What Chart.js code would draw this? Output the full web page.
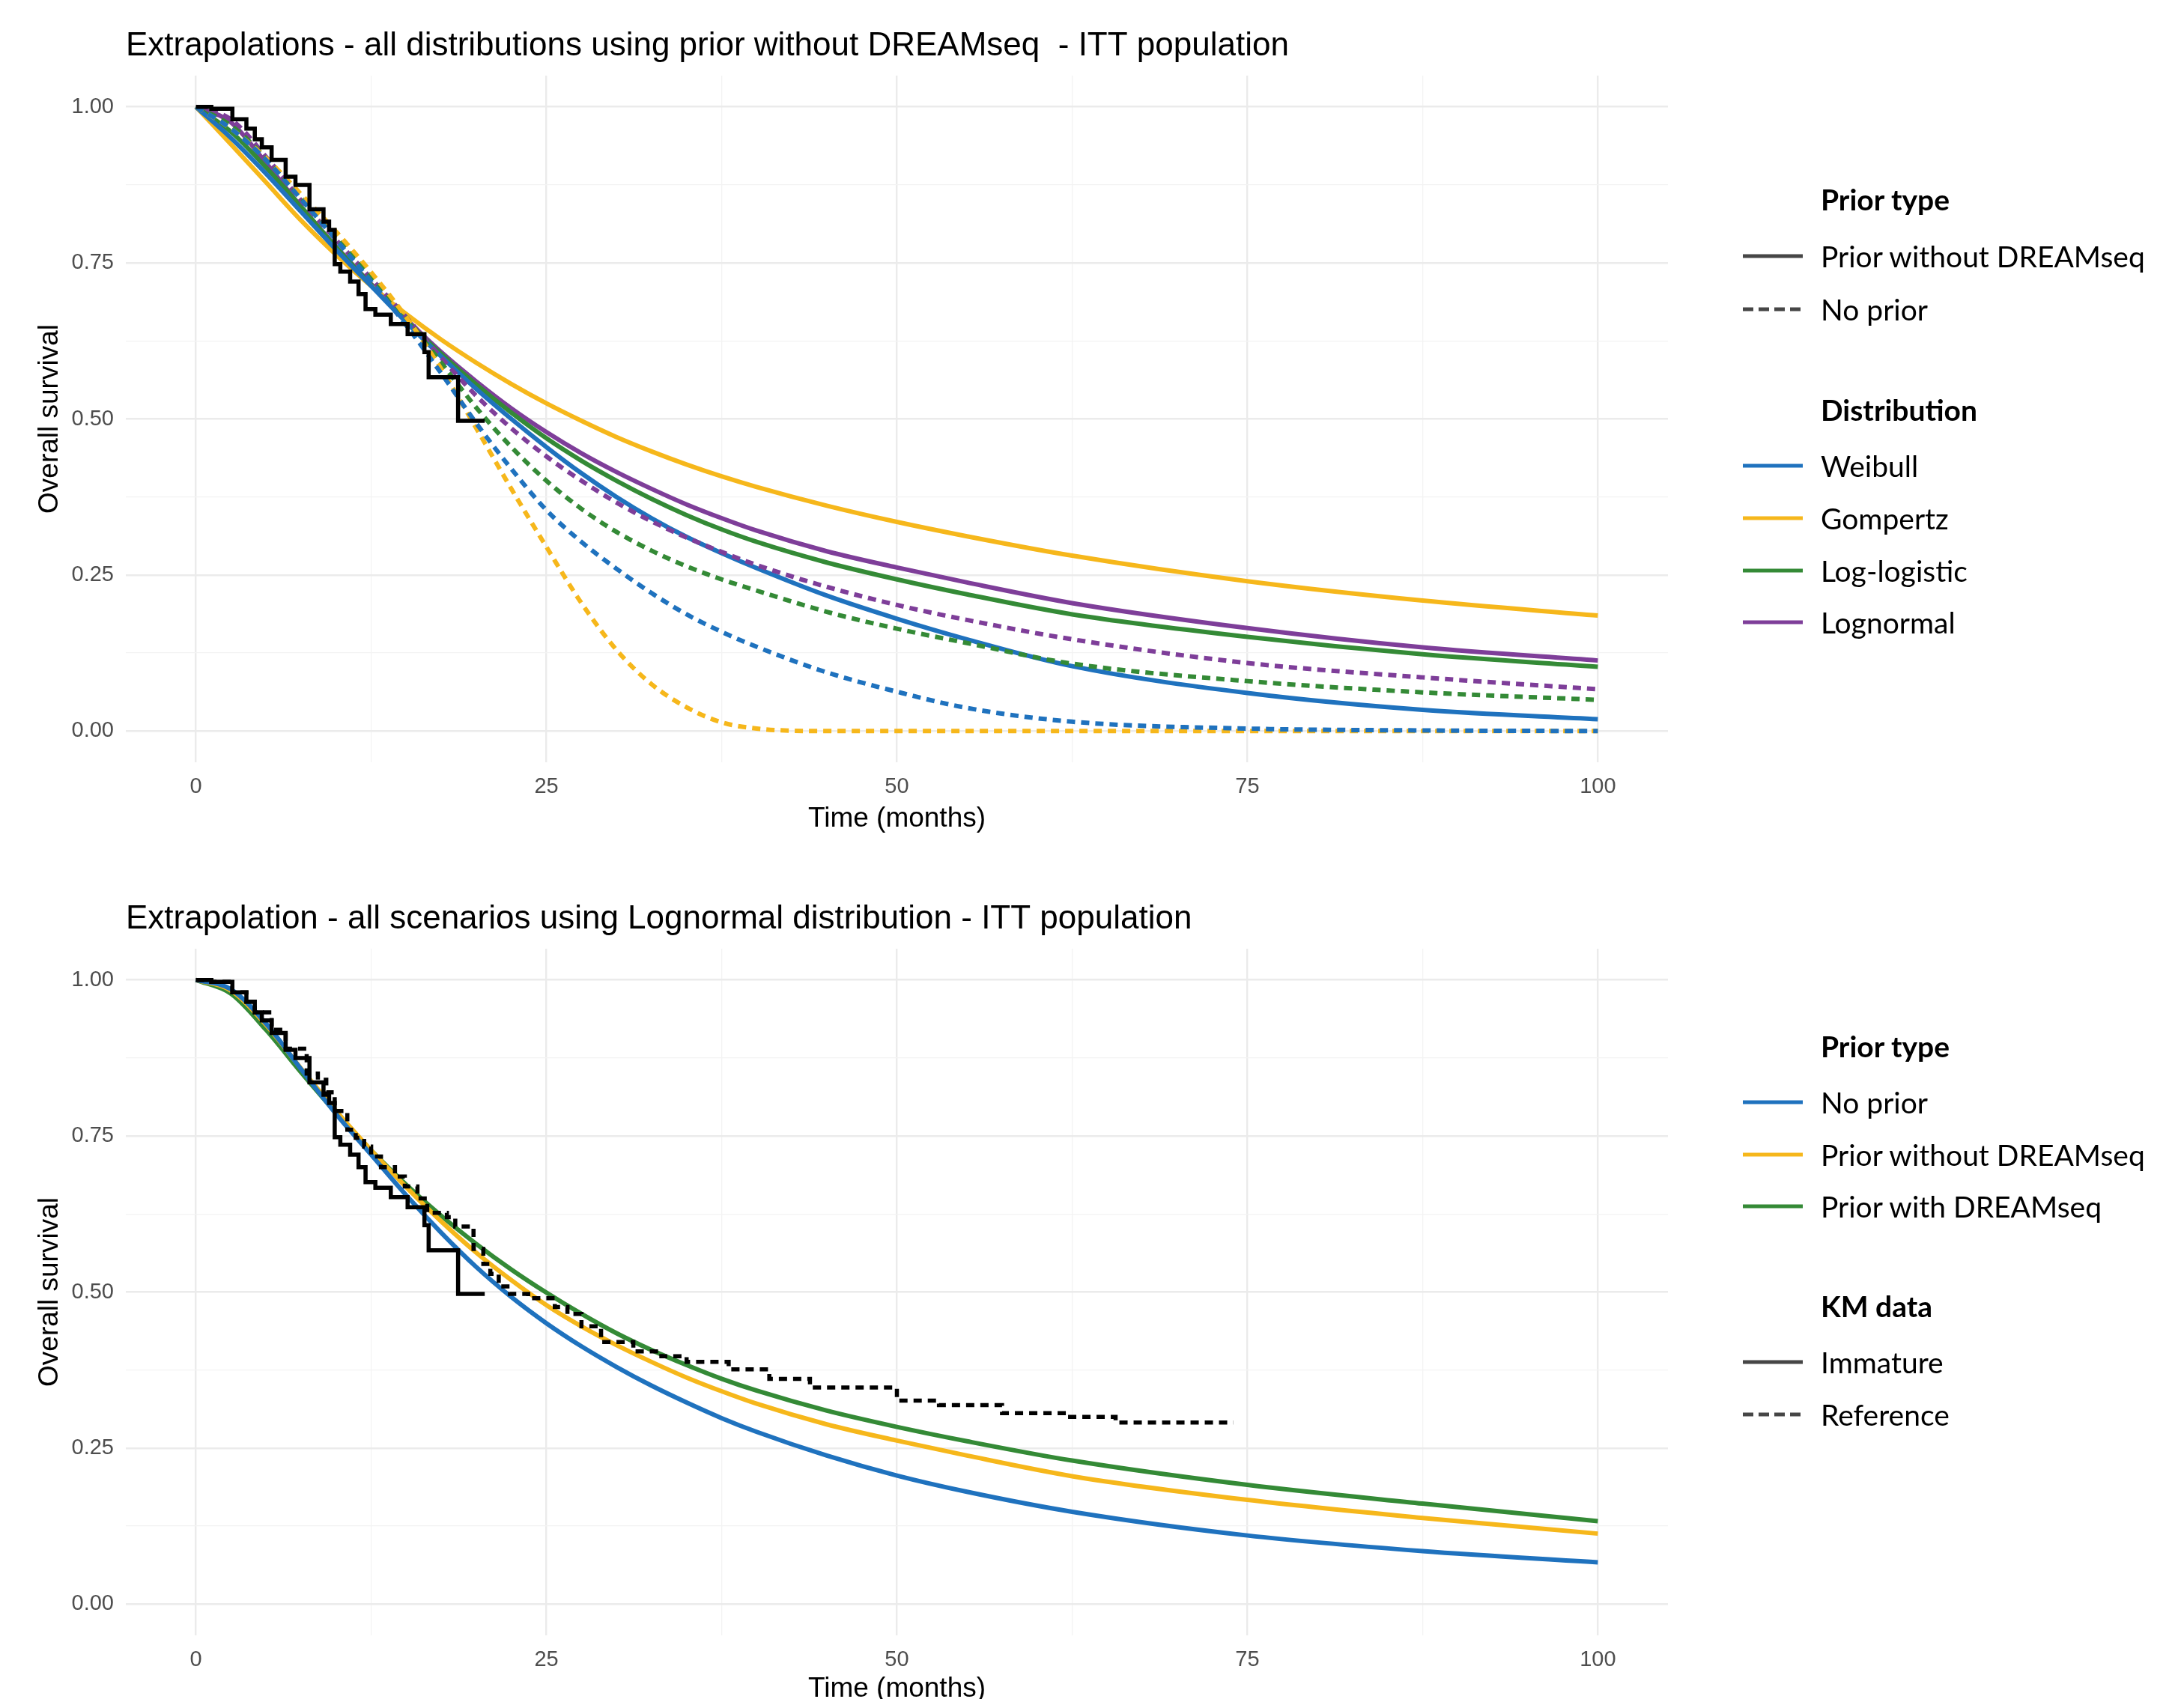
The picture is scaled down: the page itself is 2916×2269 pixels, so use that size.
<!DOCTYPE html>
<html>
<head>
<meta charset="utf-8">
<title>Extrapolations - ITT population</title>
<script src="https://cdn.jsdelivr.net/npm/chart.js@4.4.0/dist/chart.umd.min.js"></script>
<style>
  html, body { margin: 0; padding: 0; background: #fff; }
  body { width: 2916px; height: 2269px; position: relative; overflow: hidden; }
  .wrap { position: absolute; left: 0; width: 2916px; }
  #topWrap { top: 0; height: 1134px; }
  #bottomWrap { top: 1134px; height: 1180px; }
  .legend { position: absolute; left: 2327px; top: 0; width: 589px; height: 0; font-family: Lato, "Open Sans", sans-serif; color: #000; }
  .lg-row { position: absolute; left: 0; height: 0; display: flex; align-items: center; white-space: nowrap; }
  .lg-row svg { display: block; }
  .lg-text { position: absolute; left: 104px; font-size: 39px; line-height: 1; }
  .lg-head { font-weight: bold; }
</style>
</head>
<body>
<div class="wrap" id="topWrap"><canvas id="topChart" width="2916" height="1134"></canvas></div>
<div class="wrap" id="bottomWrap"><canvas id="bottomChart" width="2916" height="1180"></canvas></div>
<div class="legend" id="topLegend"></div>
<div class="legend" id="bottomLegend"></div>
<script>
// time grid (months) the fitted curves were read at
const months = [0, 2.5, 5, 7.5, 10, 12.5, 15, 17.5, 20, 22.5, 25, 27.5, 30, 32.5, 35, 37.5, 40, 45, 50, 55, 62.5, 75, 87.5, 100];

// top panel - prior without DREAMseq (solid)
const weibullPrior     = [1.0, 0.95, 0.893, 0.832, 0.771, 0.713, 0.655, 0.6, 0.548, 0.5, 0.455, 0.413, 0.375, 0.341, 0.311, 0.285, 0.261, 0.217, 0.18, 0.147, 0.104, 0.061, 0.034, 0.019];
const gompertzPrior    = [1.0, 0.94, 0.879, 0.818, 0.763, 0.713, 0.668, 0.627, 0.59, 0.556, 0.525, 0.497, 0.471, 0.448, 0.427, 0.408, 0.391, 0.361, 0.335, 0.312, 0.281, 0.24, 0.209, 0.185];
const logLogisticPrior = [1.0, 0.96, 0.903, 0.84, 0.775, 0.715, 0.658, 0.604, 0.555, 0.51, 0.469, 0.433, 0.401, 0.372, 0.346, 0.323, 0.303, 0.27, 0.243, 0.219, 0.187, 0.151, 0.123, 0.103];
const lognormalPrior   = [1.0, 0.975, 0.91, 0.84, 0.776, 0.716, 0.66, 0.607, 0.56, 0.517, 0.479, 0.445, 0.415, 0.388, 0.363, 0.341, 0.321, 0.288, 0.262, 0.238, 0.205, 0.165, 0.134, 0.113];

// top panel - no prior (dashed)
const weibullNoPrior     = [1.0, 0.965, 0.915, 0.852, 0.787, 0.72, 0.65, 0.573, 0.493, 0.42, 0.354, 0.303, 0.26, 0.221, 0.187, 0.159, 0.135, 0.094, 0.063, 0.037, 0.015, 0.004, 0.001, 0.0];
const gompertzNoPrior    = [1.0, 0.965, 0.918, 0.86, 0.8, 0.735, 0.663, 0.58, 0.485, 0.388, 0.295, 0.205, 0.13, 0.075, 0.038, 0.014, 0.004, 0.0, 0.0, 0.0, 0.0, 0.0, 0.0, 0.0];
const logLogisticNoPrior = [1.0, 0.97, 0.918, 0.855, 0.791, 0.728, 0.662, 0.59, 0.518, 0.455, 0.401, 0.356, 0.319, 0.289, 0.264, 0.243, 0.225, 0.191, 0.164, 0.141, 0.108, 0.08, 0.062, 0.05];
const lognormalNoPrior   = [1.0, 0.98, 0.92, 0.85, 0.787, 0.725, 0.663, 0.598, 0.537, 0.485, 0.44, 0.401, 0.366, 0.336, 0.31, 0.287, 0.266, 0.231, 0.202, 0.178, 0.147, 0.109, 0.086, 0.067];

// bottom panel - lognormal scenarios
const lnNoPrior      = [1.0, 0.985, 0.93, 0.857, 0.785, 0.72, 0.655, 0.595, 0.54, 0.492, 0.45, 0.413, 0.38, 0.35, 0.323, 0.298, 0.276, 0.238, 0.206, 0.18, 0.148, 0.11, 0.085, 0.067];
const lnPriorWithout = [1.0, 0.983, 0.928, 0.858, 0.79, 0.727, 0.668, 0.613, 0.563, 0.519, 0.479, 0.445, 0.415, 0.388, 0.363, 0.341, 0.321, 0.288, 0.262, 0.238, 0.205, 0.167, 0.138, 0.113];
const lnPriorWith    = [1.0, 0.978, 0.92, 0.852, 0.787, 0.727, 0.672, 0.622, 0.577, 0.536, 0.499, 0.465, 0.434, 0.407, 0.383, 0.361, 0.342, 0.31, 0.284, 0.261, 0.23, 0.191, 0.161, 0.133];

// Kaplan-Meier, immature data cut
const kmMonths   = [0, 1.1, 2.6, 3.6, 4.2, 4.7, 5.4, 6.4, 7.1, 8.1, 9.1, 9.5, 9.9, 10.3, 11.0, 11.6, 12.1, 12.8, 13.9, 15.1, 16.3, 16.6, 18.7, 20.6];
const kmSurvival = [1.0, 0.997, 0.98, 0.965, 0.948, 0.935, 0.915, 0.888, 0.875, 0.836, 0.816, 0.803, 0.748, 0.736, 0.72, 0.7, 0.676, 0.667, 0.652, 0.636, 0.607, 0.567, 0.497, 0.497];

// Kaplan-Meier, reference (mature) data
const refMonths   = [0, 1.1, 2.6, 3.6, 4.2, 5.4, 6.4, 7.9, 8.7, 9.3, 9.9, 10.8, 11.4, 12.0, 12.5, 13.2, 14.2, 14.9, 15.8, 16.5, 17.9, 18.5, 19.8, 20.5, 21.0, 21.6, 22.4, 23.7, 25.6, 26.5, 27.5, 28.9, 31.2, 33.2, 35.0, 38.0, 40.9, 43.8, 50.0, 53.0, 57.5, 62.2, 65.6, 74.0];
const refSurvival = [1.0, 0.997, 0.98, 0.965, 0.948, 0.92, 0.89, 0.85, 0.84, 0.82, 0.79, 0.76, 0.747, 0.733, 0.717, 0.70, 0.685, 0.669, 0.65, 0.627, 0.62, 0.605, 0.569, 0.545, 0.529, 0.509, 0.497, 0.49, 0.476, 0.465, 0.445, 0.42, 0.405, 0.397, 0.388, 0.376, 0.361, 0.347, 0.326, 0.319, 0.306, 0.3, 0.291, 0.291];

// axis ticks (majors get labels, the others are minor grid lines)
const xTickValues = [0, 12.5, 25, 37.5, 50, 62.5, 75, 87.5, 100];
const yTickValues = [0, 0.125, 0.25, 0.375, 0.5, 0.625, 0.75, 0.875, 1];

// legend labels
const distributions = ['Weibull', 'Gompertz', 'Log-logistic', 'Lognormal'];
const priorTypesTop = ['Prior without DREAMseq', 'No prior'];
const priorTypesBottom = ['No prior', 'Prior without DREAMseq', 'Prior with DREAMseq'];
const kmTypes = ['Immature', 'Reference'];

const BLUE = '#1F72BE', ORANGE = '#F6B71B', GREEN = '#348A36', PURPLE = '#7E3E99';
const KEY_GREY = '#464646';
const DASH = [11, 8];
const LW = 6;
const TITLE_SIZE = 44;

function pts(xs, ys) {
  return xs.map((x, i) => ({ x: x, y: ys[i] }));
}

function curve(label, ys, color, dashed) {
  return {
    label: label,
    data: pts(months, ys),
    borderColor: color,
    borderWidth: LW,
    borderDash: dashed ? DASH : [],
    cubicInterpolationMode: 'monotone',
    pointRadius: 0,
    fill: false
  };
}

function km(label, xs, ys, dashed) {
  return {
    label: label,
    data: pts(xs, ys),
    borderColor: '#000',
    borderWidth: 5.5,
    borderDash: dashed ? [11, 8] : [],
    stepped: true,
    pointRadius: 0,
    fill: false
  };
}

const isMajorX = v => Math.abs(v % 25) < 1e-9;
const isMajorY = v => Math.abs(v * 4 - Math.round(v * 4)) < 1e-9;

function axes(xAxisHeight, xTitlePad) {
  const tickFont = { family: 'Liberation Sans, Arial, sans-serif', size: 29 };
  const titleFont = { family: 'Liberation Sans, Arial, sans-serif', size: 37 };
  return {
    x: {
      type: 'linear',
      min: -5,
      max: 105,
      afterBuildTicks: s => { s.ticks = xTickValues.map(v => ({ value: v })); },
      afterFit: s => { s.height = xAxisHeight; },
      border: { display: false },
      grid: {
        drawTicks: false,
        color: c => isMajorX(c.tick.value) ? '#EBEBEB' : '#F3F3F3',
        lineWidth: c => isMajorX(c.tick.value) ? 2.4 : 1.3
      },
      ticks: {
        autoSkip: false,
        maxRotation: 0,
        padding: 16,
        color: '#4D4D4D',
        font: tickFont,
        callback: v => isMajorX(v) ? String(v) : ''
      },
      title: {
        display: true,
        text: 'Time (months)',
        color: '#000',
        font: titleFont,
        padding: { top: 0, bottom: xTitlePad }
      }
    },
    y: {
      type: 'linear',
      min: -0.05,
      max: 1.05,
      afterBuildTicks: s => { s.ticks = yTickValues.map(v => ({ value: v })); },
      afterFit: s => { s.width = 168; },
      border: { display: false },
      grid: {
        drawTicks: false,
        color: c => isMajorY(c.tick.value) ? '#EBEBEB' : '#F3F3F3',
        lineWidth: c => isMajorY(c.tick.value) ? 2.4 : 1.3
      },
      ticks: {
        autoSkip: false,
        padding: 16,
        color: '#4D4D4D',
        font: tickFont,
        callback: v => isMajorY(v) ? v.toFixed(2) : ''
      },
      title: {
        display: true,
        text: 'Overall survival',
        color: '#000',
        font: titleFont,
        padding: { top: 45, bottom: 0 }
      }
    }
  };
}

// areaTop = where the plot panel starts inside the canvas
function options(titleText, titlePadTop, areaTop, xAxisHeight, xTitlePad) {
  return {
    responsive: false,
    animation: false,
    layout: { padding: { left: 0, right: 689, top: 0, bottom: 0 } },
    plugins: {
      legend: { display: false },
      tooltip: { enabled: false },
      title: {
        display: true,
        text: titleText,
        align: 'start',
        fullSize: false,
        color: '#000',
        font: { family: 'Liberation Sans, Arial, sans-serif', size: TITLE_SIZE, weight: 'normal' },
        padding: { top: titlePadTop, bottom: areaTop - TITLE_SIZE * 1.2 - titlePadTop }
      }
    },
    scales: axes(xAxisHeight, xTitlePad)
  };
}

// top chart: all distributions, prior without DREAMseq vs no prior
new Chart(document.getElementById('topChart'), {
  type: 'line',
  data: {
    datasets: [
      km('KM immature', kmMonths, kmSurvival, false),
      curve('Weibull - no prior', weibullNoPrior, BLUE, true),
      curve('Gompertz - no prior', gompertzNoPrior, ORANGE, true),
      curve('Log-logistic - no prior', logLogisticNoPrior, GREEN, true),
      curve('Lognormal - no prior', lognormalNoPrior, PURPLE, true),
      curve('Weibull', weibullPrior, BLUE, false),
      curve('Gompertz', gompertzPrior, ORANGE, false),
      curve('Log-logistic', logLogisticPrior, GREEN, false),
      curve('Lognormal', lognormalPrior, PURPLE, false)
    ]
  },
  options: options('Extrapolations - all distributions using prior without DREAMseq  - ITT population', 35.6, 101, 116, 17.8)
});

// bottom chart: lognormal, all scenarios
new Chart(document.getElementById('bottomChart'), {
  type: 'line',
  data: {
    datasets: [
      km('KM immature', kmMonths, kmSurvival, false),
      km('KM reference', refMonths, refSurvival, true),
      curve('No prior', lnNoPrior, BLUE, false),
      curve('Prior without DREAMseq', lnPriorWithout, ORANGE, false),
      curve('Prior with DREAMseq', lnPriorWith, GREEN, false)
    ]
  },
  options: options('Extrapolation - all scenarios using Lognormal distribution - ITT population', 67.6, 133, 130, 35.8)
});

// ggplot-style grouped legends
function keySvg(color, dashed) {
  const ns = 'http://www.w3.org/2000/svg';
  const svg = document.createElementNS(ns, 'svg');
  svg.setAttribute('width', '80');
  svg.setAttribute('height', '8');
  const line = document.createElementNS(ns, 'line');
  line.setAttribute('x1', '0');
  line.setAttribute('x2', '80');
  line.setAttribute('y1', '4');
  line.setAttribute('y2', '4');
  line.setAttribute('stroke', color);
  line.setAttribute('stroke-width', '5');
  if (dashed) line.setAttribute('stroke-dasharray', '14 7');
  svg.appendChild(line);
  return svg;
}

function buildLegend(id, rows) {
  const box = document.getElementById(id);
  rows.forEach(r => {
    const row = document.createElement('div');
    row.className = 'lg-row';
    row.style.top = r.y + 'px';
    if (!r.head) row.appendChild(keySvg(r.color, r.dashed));
    const t = document.createElement('div');
    t.className = 'lg-text' + (r.head ? ' lg-head' : '');
    t.textContent = r.text;
    row.appendChild(t);
    box.appendChild(row);
  });
}

buildLegend('topLegend', [
  { head: true, text: 'Prior type', y: 266 },
  { text: priorTypesTop[0], color: KEY_GREY, dashed: false, y: 342 },
  { text: priorTypesTop[1], color: KEY_GREY, dashed: true, y: 413 },
  { head: true, text: 'Distribution', y: 547 },
  { text: distributions[0], color: BLUE, y: 622 },
  { text: distributions[1], color: ORANGE, y: 692 },
  { text: distributions[2], color: GREEN, y: 762 },
  { text: distributions[3], color: PURPLE, y: 831 }
]);

buildLegend('bottomLegend', [
  { head: true, text: 'Prior type', y: 1397 },
  { text: priorTypesBottom[0], color: BLUE, y: 1472 },
  { text: priorTypesBottom[1], color: ORANGE, y: 1542 },
  { text: priorTypesBottom[2], color: GREEN, y: 1611 },
  { head: true, text: 'KM data', y: 1744 },
  { text: kmTypes[0], color: KEY_GREY, dashed: false, y: 1819 },
  { text: kmTypes[1], color: KEY_GREY, dashed: true, y: 1889 }
]);
</script>
</body>
</html>
